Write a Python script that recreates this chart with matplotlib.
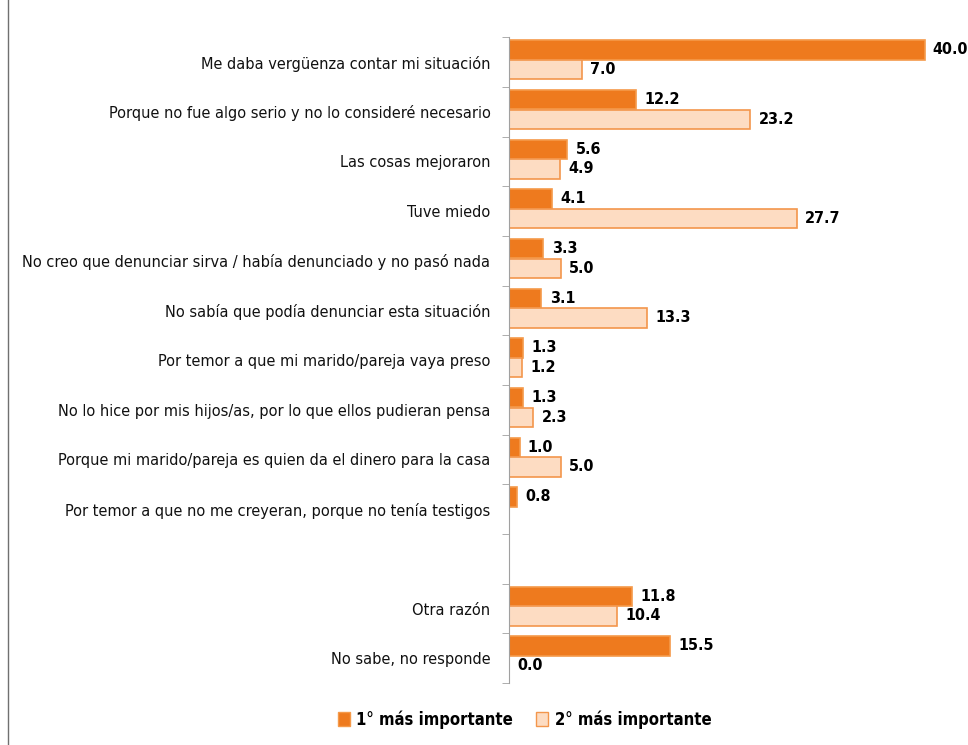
import numpy as np
import matplotlib.pyplot as plt
from matplotlib.lines import Line2D
from matplotlib.patches import Patch

# datos del gráfico
categorias = [
    "Me daba vergüenza contar mi situación",
    "Porque no fue algo serio y no lo consideré necesario",
    "Las cosas mejoraron",
    "Tuve miedo",
    "No creo que denunciar sirva / había denunciado y no pasó nada",
    "No sabía que podía denunciar esta situación",
    "Por temor a que mi marido/pareja vaya preso",
    "No lo hice por mis hijos/as, por lo que ellos pudieran pensa",
    "Porque mi marido/pareja es quien da el dinero para la casa",
    "Por temor a que no me creyeran, porque no tenía testigos",
    "",
    "Otra razón",
    "No sabe, no responde",
]
primero = [40.0, 12.2, 5.6, 4.1, 3.3, 3.1, 1.3, 1.3, 1.0, 0.8, np.nan, 11.8, 15.5]
segundo = [7.0, 23.2, 4.9, 27.7, 5.0, 13.3, 1.2, 2.3, 5.0, np.nan, np.nan, 10.4, 0.0]
series = ["1° más importante", "2° más importante"]

plt.rcParams['font.family'] = ['DejaVu Sans']
plt.rcParams['font.stretch'] = 'condensed'

c_osc = "#EE7A1E"
c_osc_borde = "#F59A4A"
c_cla = "#FDDCC2"
c_cla_borde = "#F3964C"

fig = plt.figure(figsize=(9.68, 7.45), dpi=100)
ax = fig.add_axes([0.526, 0.0832, 0.472, 0.8668])

y = np.arange(len(categorias))
h = 0.39
for vals, off, col, borde in [(primero, -0.246, c_osc, c_osc_borde),
                              (segundo, 0.15, c_cla, c_cla_borde)]:
    vals = np.array(vals)
    ok = ~np.isnan(vals)
    ax.barh(y[ok] + off, vals[ok], height=h, color=col, edgecolor=borde, linewidth=1.2)
    for yi, v in zip(y[ok], vals[ok]):
        ax.annotate(f"{v:.1f}", (v, yi + off), xytext=(6, 0), textcoords="offset points",
                    va="center", ha="left", fontsize=11.5, fontweight="bold", color="black")

ax.set_xlim(0, 44)
ax.set_ylim(len(categorias) - 0.5, -0.5)
ax.set_yticks(y)
ax.set_yticklabels(categorias, fontsize=11.7, color="#111111")
ax.tick_params(axis="y", which="major", length=0, pad=13.5)
ax.set_yticks(np.arange(-0.5, len(categorias), 1), minor=True)
ax.tick_params(axis="y", which="minor", length=5, color="#A0A0A0")
ax.set_xticks([])
for s in ["top", "right", "bottom"]:
    ax.spines[s].set_visible(False)
ax.spines["left"].set_color("#A0A0A0")

# línea del borde izquierdo
fig.add_artist(Line2D([0.0083, 0.0083], [0, 1], color="#707070", linewidth=1))

handles = [Patch(facecolor=c_osc, edgecolor=c_osc_borde), Patch(facecolor=c_cla, edgecolor=c_cla_borde)]
fig.legend(handles, series, loc="center", bbox_to_anchor=(0.542, 0.034), ncol=2, frameon=False,
           prop={"size": 12, "weight": "bold", "stretch": "condensed"}, handlelength=0.7,
           handleheight=0.9, handletextpad=0.4, columnspacing=1.4)

fig.savefig("out.png", dpi=100)
